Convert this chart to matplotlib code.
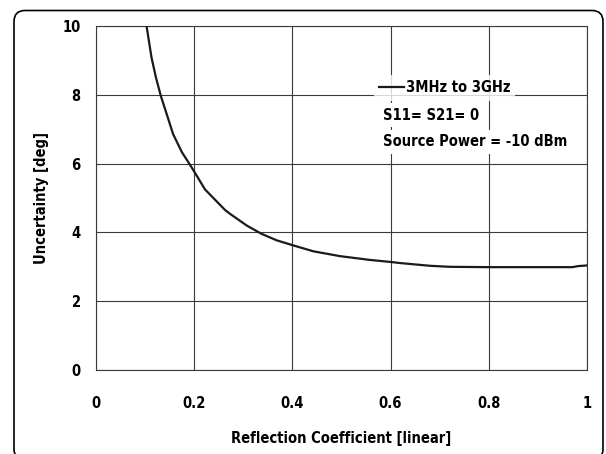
import matplotlib
matplotlib.use("Agg")
from matplotlib import pyplot as plt
from matplotlib.patches import FancyBboxPatch

# curve
refl_coef = [0.103, 0.113, 0.122, 0.132, 0.144, 0.157, 0.175, 0.190, 0.200, 0.222,
             0.263, 0.273, 0.307, 0.337, 0.368, 0.400, 0.443, 0.497, 0.558, 0.601,
             0.619, 0.680, 0.720, 0.800, 0.900, 0.970, 0.982, 1.000]
uncert_deg = [10.0, 9.09, 8.51, 7.97, 7.44, 6.86, 6.33, 6.00, 5.77, 5.25,
              4.65, 4.54, 4.20, 3.96, 3.77, 3.63, 3.45, 3.31, 3.20, 3.14,
              3.11, 3.03, 3.00, 2.99, 2.99, 2.99, 3.02, 3.04]

x_ticks = [0, 0.2, 0.4, 0.6, 0.8, 1]
x_tick_labels = ["0", "0.2", "0.4", "0.6", "0.8", "1"]
y_ticks = [0, 2, 4, 6, 8, 10]

series_label = "3MHz to 3GHz"
notes = ["S11= S21= 0", "Source Power = -10 dBm"]

# condensed bold to get close to the original's narrow font
plt.rcParams['font.family'] = ['DejaVu Sans']
plt.rcParams['font.stretch'] = 'condensed'
plt.rcParams['font.weight'] = 'bold'
plt.rcParams['axes.labelweight'] = 'bold'
plt.rcParams['font.size'] = 10.5

fig = plt.figure(figsize=(6.06, 4.54), dpi=100)
ax = fig.add_axes([0.1584, 0.185, 0.8102, 0.7577])

# rounded outer frame
frame = FancyBboxPatch((0.14, -0.06), 5.89, 4.495,
                       boxstyle="round,pad=0,rounding_size=0.11",
                       transform=fig.dpi_scale_trans, fill=False,
                       edgecolor='black', linewidth=1.2, zorder=0)
fig.patches.append(frame)

ax.plot(refl_coef, uncert_deg, color='#1a1a1a', lw=1.6, label=series_label, zorder=3)

ax.set_xlim(0, 1)
ax.set_ylim(0, 10)
ax.set_xticks(x_ticks)
ax.set_xticklabels(x_tick_labels)
ax.set_yticks(y_ticks)
ax.tick_params(axis='both', length=0)
ax.tick_params(axis='x', pad=19)
ax.tick_params(axis='y', pad=11)
ax.grid(True, color='#3a3a3a', lw=0.8)
for s in ax.spines.values():
    s.set_color('#3a3a3a')
    s.set_linewidth(0.8)

ax.set_xlabel("Reflection Coefficient [linear]", labelpad=14)
ax.set_ylabel("Uncertainty [deg]", labelpad=10)

leg = ax.legend(loc='center left', bbox_to_anchor=(0.567, 0.82), frameon=True,
                handlelength=1.7, handletextpad=0.1, borderpad=0.35,
                fancybox=False, borderaxespad=0)
leg.get_frame().set_facecolor('white')
leg.get_frame().set_edgecolor('none')
leg.set_zorder(5)

for i, note in enumerate(notes):
    ax.text(0.5845, 0.741 - i * 0.078, note, transform=ax.transAxes,
            va='center', ha='left', zorder=5,
            bbox=dict(facecolor='white', edgecolor='none', pad=3))

fig.savefig("out.png", dpi=100)
